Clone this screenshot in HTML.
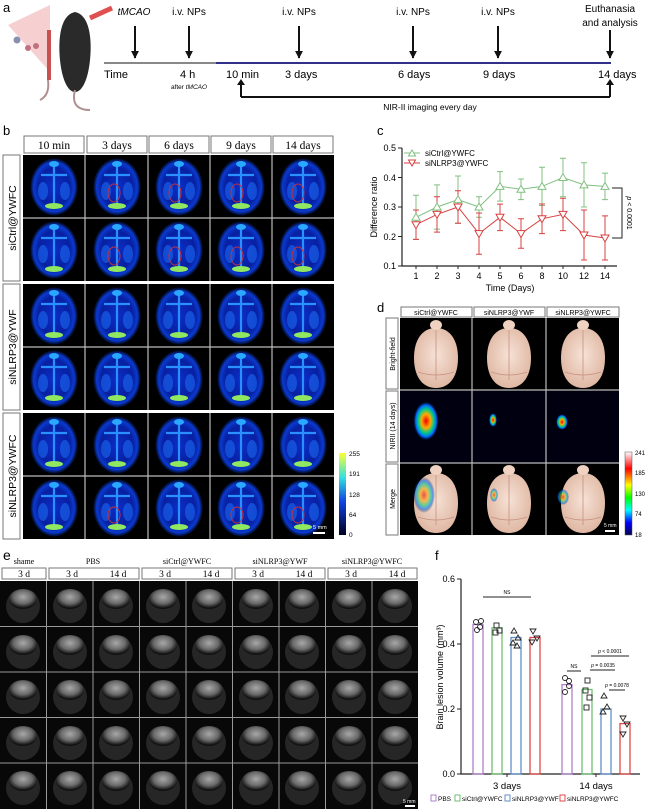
<!DOCTYPE html>
<html><head><meta charset="utf-8"><style>
html,body{margin:0;padding:0;background:#fff;}
svg{display:block;font-family:"Liberation Sans",sans-serif;}
.ser{font-family:"Liberation Serif",serif;}
</style></head><body>
<svg width="650" height="809" viewBox="0 0 650 809" xmlns="http://www.w3.org/2000/svg">
<defs>
<radialGradient id="gb" cx="50%" cy="50%" r="50%"><stop offset="0" stop-color="#0c2ec8"/><stop offset="0.65" stop-color="#0820a0"/><stop offset="0.85" stop-color="#0a3ad0"/><stop offset="1" stop-color="#000"/></radialGradient>
<radialGradient id="gg" cx="50%" cy="40%" r="55%"><stop offset="0" stop-color="#a8a8a8"/><stop offset="0.6" stop-color="#6a6a6a"/><stop offset="1" stop-color="#111"/></radialGradient>
<radialGradient id="gp" cx="50%" cy="45%" r="55%"><stop offset="0" stop-color="#f6e2d6"/><stop offset="1" stop-color="#e0b8a4"/></radialGradient>
<radialGradient id="hot" cx="50%" cy="50%" r="50%"><stop offset="0" stop-color="#e00"/><stop offset="0.35" stop-color="#fa0"/><stop offset="0.6" stop-color="#0c8"/><stop offset="0.8" stop-color="#06f"/><stop offset="1" stop-color="#001" stop-opacity="0"/></radialGradient>
<linearGradient id="cb1" x1="0" y1="0" x2="0" y2="1"><stop offset="0" stop-color="#ffff30"/><stop offset="0.3" stop-color="#30e0e0"/><stop offset="0.6" stop-color="#1040e0"/><stop offset="1" stop-color="#000020"/></linearGradient>
<linearGradient id="cb2" x1="0" y1="0" x2="0" y2="1"><stop offset="0" stop-color="#fff"/><stop offset="0.2" stop-color="#f00"/><stop offset="0.4" stop-color="#ff0"/><stop offset="0.55" stop-color="#0f0"/><stop offset="0.7" stop-color="#0ff"/><stop offset="0.85" stop-color="#00f"/><stop offset="1" stop-color="#000050"/></linearGradient>
<g id="bb">
<rect width="62" height="63" fill="#000"/>
<ellipse cx="31" cy="32" rx="24" ry="29" fill="url(#gb)"/>
<path d="M31 10 V52 M18 20 H44" stroke="#2a90ff" stroke-width="2.2" fill="none"/>
<ellipse cx="20" cy="36" rx="5" ry="9" fill="#1860e8" opacity="0.7"/>
<ellipse cx="42" cy="36" rx="5" ry="9" fill="#1860e8" opacity="0.7"/>
<ellipse cx="31" cy="51" rx="9" ry="3" fill="#90e860"/>
<ellipse cx="31" cy="9" rx="5" ry="3" fill="#2aa8ff"/>
</g>
<g id="ee">
<rect width="46" height="45" fill="#080808"/>
<ellipse cx="23" cy="25" rx="17" ry="17" fill="#262626"/>
<ellipse cx="23" cy="18" rx="14" ry="10" fill="url(#gg)"/>
</g>
<g id="br">
<path d="M0 -30 C14 -30 22 -18 22 0 C22 18 14 30 0 30 C-14 30 -22 18 -22 0 C-22 -18 -14 -30 0 -30Z" fill="url(#gp)"/>
<ellipse cx="0" cy="-33" rx="6" ry="5" fill="#efd2c2"/>
<path d="M0 -28V22 M-18 14 Q0 20 18 14" stroke="#c89080" stroke-width="0.8" fill="none"/>
</g>
<marker id="ar" viewBox="0 0 10 10" refX="9" refY="5" markerWidth="4" markerHeight="4" orient="auto"><path d="M0 0 L10 5 L0 10z" fill="#111"/></marker>
</defs>

<!-- panel a -->
<text x="3" y="12" font-size="13">a</text>
<path d="M8 25 L50 5 L50 72 Z" fill="#f4c4c4" opacity="0.8"/>
<circle cx="17" cy="40" r="3.5" fill="#8890b0"/><circle cx="28" cy="48" r="3" fill="#c07080"/><circle cx="36" cy="46" r="3" fill="#c07080"/>
<rect x="47" y="30" width="4" height="50" fill="#c85050"/>
<path d="M40 100 Q50 95 48 80" stroke="#b09090" stroke-width="2" fill="none"/>
<path d="M75 12 C90 15 92 40 90 60 C88 80 82 92 75 92 C68 92 62 80 60 60 C58 40 60 15 75 12Z" fill="#2a2a2a"/>
<path d="M75 90 Q70 110 90 110" stroke="#b09090" stroke-width="2" fill="none"/>
<path d="M90 18 L112 8" stroke="#e05050" stroke-width="5"/>
<text x="134" y="15" font-size="10" font-style="italic" text-anchor="middle">tMCAO</text>
<text x="189" y="15" font-size="10" text-anchor="middle">i.v. NPs</text>
<text x="299" y="15" font-size="10" text-anchor="middle">i.v. NPs</text>
<text x="413" y="15" font-size="10" text-anchor="middle">i.v. NPs</text>
<text x="498" y="15" font-size="10" text-anchor="middle">i.v. NPs</text>
<text x="610" y="12" font-size="10" text-anchor="middle">Euthanasia</text>
<text x="610" y="26" font-size="10" text-anchor="middle">and analysis</text>
<g stroke="#111" stroke-width="2" marker-end="url(#ar)">
<line x1="135" y1="26" x2="135" y2="58"/><line x1="189" y1="26" x2="189" y2="58"/><line x1="299" y1="26" x2="299" y2="58"/><line x1="413" y1="26" x2="413" y2="58"/><line x1="498" y1="26" x2="498" y2="58"/><line x1="610" y1="30" x2="610" y2="58"/>
</g>
<line x1="104" y1="63" x2="216" y2="63" stroke="#888" stroke-width="2"/>
<line x1="216" y1="63" x2="611" y2="63" stroke="#30308a" stroke-width="2"/>
<g font-size="11"><text x="104" y="78">Time</text><text x="180" y="78">4 h</text><text x="226" y="78">10 min</text><text x="285" y="78">3 days</text><text x="398" y="78">6 days</text><text x="483" y="78">9 days</text><text x="598" y="78">14 days</text></g>
<text x="189" y="89" font-size="6.5" text-anchor="middle">after <tspan font-style="italic">tMCAO</tspan></text>
<path d="M241 97 V84 M610 97 V84 M241 97 H610" stroke="#111" stroke-width="2" fill="none"/>
<path d="M237 85 L241 79 L245 85Z M606 85 L610 79 L614 85Z" fill="#111"/>
<text x="430" y="110" font-size="8.5" text-anchor="middle">NIR-II imaging every day</text>

<!-- panel b -->
<text x="3" y="135" font-size="13">b</text>
<g class="ser" font-size="11.5" text-anchor="middle">
<rect x="24" y="136" width="60" height="17" fill="#fff" stroke="#777"/><text x="54" y="149" class="ser">10 min</text>
<rect x="87" y="136" width="60" height="17" fill="#fff" stroke="#777"/><text x="117" y="149" class="ser">3 days</text>
<rect x="149" y="136" width="60" height="17" fill="#fff" stroke="#777"/><text x="179" y="149" class="ser">6 days</text>
<rect x="211" y="136" width="60" height="17" fill="#fff" stroke="#777"/><text x="241" y="149" class="ser">9 days</text>
<rect x="273" y="136" width="60" height="17" fill="#fff" stroke="#777"/><text x="303" y="149" class="ser">14 days</text>
</g>
<g font-size="10.5">
<rect x="3" y="155" width="17" height="126" fill="#fff" stroke="#777"/><text transform="translate(16,218) rotate(-90)" text-anchor="middle">siCtrl@YWFC</text>
<rect x="3" y="284" width="17" height="126" fill="#fff" stroke="#777"/><text transform="translate(16,347) rotate(-90)" text-anchor="middle">siNLRP3@YWF</text>
<rect x="3" y="413" width="17" height="126" fill="#fff" stroke="#777"/><text transform="translate(16,476) rotate(-90)" text-anchor="middle">siNLRP3@YWFC</text>
</g>
<rect x="23" y="155" width="311" height="384" fill="#000"/>
<g>
<use href="#bb" x="23" y="155"/><use href="#bb" x="86" y="155"/><use href="#bb" x="148" y="155"/><use href="#bb" x="210" y="155"/><use href="#bb" x="272" y="155"/>
<use href="#bb" x="23" y="218"/><use href="#bb" x="86" y="218"/><use href="#bb" x="148" y="218"/><use href="#bb" x="210" y="218"/><use href="#bb" x="272" y="218"/>
<use href="#bb" x="23" y="284"/><use href="#bb" x="86" y="284"/><use href="#bb" x="148" y="284"/><use href="#bb" x="210" y="284"/><use href="#bb" x="272" y="284"/>
<use href="#bb" x="23" y="347"/><use href="#bb" x="86" y="347"/><use href="#bb" x="148" y="347"/><use href="#bb" x="210" y="347"/><use href="#bb" x="272" y="347"/>
<use href="#bb" x="23" y="413"/><use href="#bb" x="86" y="413"/><use href="#bb" x="148" y="413"/><use href="#bb" x="210" y="413"/><use href="#bb" x="272" y="413"/>
<use href="#bb" x="23" y="476"/><use href="#bb" x="86" y="476"/><use href="#bb" x="148" y="476"/><use href="#bb" x="210" y="476"/><use href="#bb" x="272" y="476"/>
</g>
<g stroke="#bbb" stroke-width="1.2" fill="none">
<path d="M85 155V539 M148 155V539 M210 155V539 M272 155V539 M23 218H334 M23 347H334 M23 476H334"/>
</g>
<rect x="23" y="281" width="311" height="3" fill="#fff"/><rect x="23" y="410" width="311" height="3" fill="#fff"/>
<g fill="none" stroke="#c03040" stroke-width="1"><ellipse cx="114" cy="193" rx="6" ry="9"/><ellipse cx="175" cy="193" rx="6" ry="9"/><ellipse cx="237" cy="193" rx="6" ry="9"/><ellipse cx="298" cy="193" rx="6" ry="9"/><ellipse cx="114" cy="256" rx="6" ry="9"/><ellipse cx="175" cy="256" rx="6" ry="9"/><ellipse cx="237" cy="256" rx="6" ry="9"/><ellipse cx="298" cy="256" rx="6" ry="9"/><ellipse cx="114" cy="515" rx="6" ry="8"/><ellipse cx="237" cy="515" rx="6" ry="8"/><ellipse cx="298" cy="515" rx="6" ry="8"/></g>
<rect x="339" y="453" width="7" height="82" fill="url(#cb1)"/>
<g font-size="6.5"><text x="349" y="456">255</text><text x="349" y="476">191</text><text x="349" y="497">128</text><text x="349" y="517">64</text><text x="349" y="537">0</text></g>
<rect x="313" y="532" width="12" height="2" fill="#fff"/><text x="313" y="529" font-size="5.5" fill="#fff">5 mm</text>

<!-- panel c -->
<text x="377" y="135" font-size="13">c</text>
<path d="M402 148 V266 H617" stroke="#222" stroke-width="1.2" fill="none"/>
<g stroke="#222" stroke-width="1"><path d="M398 148H402 M398 177.5H402 M398 207H402 M398 236.5H402 M398 266H402"/>
<path d="M416 266v3 M437 266v3 M458 266v3 M479 266v3 M500 266v3 M521 266v3 M542 266v3 M563 266v3 M584 266v3 M605 266v3"/></g>
<g font-size="9" text-anchor="end"><text x="396" y="151">0.5</text><text x="396" y="181">0.4</text><text x="396" y="210">0.3</text><text x="396" y="240">0.2</text><text x="396" y="269">0.1</text></g>
<g font-size="9" text-anchor="middle"><text x="416" y="279">1</text><text x="437" y="279">2</text><text x="458" y="279">3</text><text x="479" y="279">4</text><text x="500" y="279">5</text><text x="521" y="279">6</text><text x="542" y="279">8</text><text x="563" y="279">10</text><text x="584" y="279">12</text><text x="605" y="279">14</text></g>
<text x="510" y="291" font-size="9" text-anchor="middle">Time (Days)</text>
<text transform="translate(377,207) rotate(-90)" font-size="9" text-anchor="middle">Difference ratio</text>
<g stroke="#80c080" stroke-width="1" fill="none">
<path d="M416 217.3 L437 207 L458 199.6 L479 207 L500 186.4 L521 189.3 L542 186.4 L563 177.5 L584 184.9 L605 186.4"/>
<path d="M416 195.2V239.4 M437 184.9V229.1 M458 176V223.2 M479 196.7V217.3 M500 171.6V201.1 M521 179V199.6 M542 167.2V205.5 M563 158.3V196.7 M584 162.8V207 M605 173.1V199.6"/>
<path d="M413 195.2h6M413 239.4h6M434 184.9h6M434 229.1h6M455 176h6M455 223.2h6M476 196.7h6M476 217.3h6M497 171.6h6M497 201.1h6M518 179h6M518 199.6h6M539 167.2h6M539 205.5h6M560 158.3h6M560 196.7h6M581 162.8h6M581 207h6M602 173.1h6M602 199.6h6"/>
</g>
<g stroke="#d84040" stroke-width="1" fill="none">
<path d="M416 224.7 L437 214.4 L458 207 L479 233.6 L500 217.3 L521 233.6 L542 218.8 L563 214.4 L584 235 L605 238"/>
<path d="M416 210V239.4 M437 196.7V232.1 M458 190.8V223.2 M479 213V254.2 M500 204.1V230.6 M521 218.8V248.3 M542 204V233.6 M563 198.2V230.6 M584 210V260 M605 215.9V260"/>
<path d="M413 210h6M413 239.4h6M434 196.7h6M434 232.1h6M455 190.8h6M455 223.2h6M476 213h6M476 254.2h6M497 204.1h6M497 230.6h6M518 218.8h6M518 248.3h6M539 204h6M539 233.6h6M560 198.2h6M560 230.6h6M581 210h6M581 260h6M602 215.9h6M602 260h6"/>
</g>
<g fill="#fff" stroke="#80c080" stroke-width="1"><path d="M416 213.3l4 7h-8z M437 203l4 7h-8z M458 195.6l4 7h-8z M479 203l4 7h-8z M500 182.4l4 7h-8z M521 185.3l4 7h-8z M542 182.4l4 7h-8z M563 173.5l4 7h-8z M584 180.9l4 7h-8z M605 182.4l4 7h-8z"/></g>
<g fill="#fff" stroke="#d84040" stroke-width="1"><path d="M416 228.7l4 -7h-8z M437 218.4l4 -7h-8z M458 211l4 -7h-8z M479 237.6l4 -7h-8z M500 221.3l4 -7h-8z M521 237.6l4 -7h-8z M542 222.8l4 -7h-8z M563 218.4l4 -7h-8z M584 239l4 -7h-8z M605 242l4 -7h-8z"/></g>
<path d="M404 153h16" stroke="#80c080"/><path d="M412 150l3.5 6h-7z" fill="#fff" stroke="#80c080"/>
<path d="M404 163h16" stroke="#d84040"/><path d="M412 166l3.5 -6h-7z" fill="#fff" stroke="#d84040"/>
<text x="425" y="156" font-size="8">siCtrl@YWFC</text><text x="425" y="166" font-size="8">siNLRP3@YWFC</text>
<path d="M612 188H622V238H612" stroke="#222" fill="none"/>
<text transform="translate(627,213) rotate(90)" font-size="7" text-anchor="middle"><tspan font-style="italic">p</tspan> &lt; 0.0001</text>

<!-- panel d -->
<text x="377" y="312" font-size="13">d</text>
<g font-size="7" text-anchor="middle">
<rect x="401" y="307" width="71" height="10" fill="#fff" stroke="#777"/><text x="436" y="315">siCtrl@YWFC</text>
<rect x="474" y="307" width="71" height="10" fill="#fff" stroke="#777"/><text x="509" y="315">siNLRP3@YWF</text>
<rect x="547" y="307" width="72" height="10" fill="#fff" stroke="#777"/><text x="583" y="315">siNLRP3@YWFC</text>
<rect x="386" y="318" width="12" height="71" fill="#fff" stroke="#777"/><text transform="translate(395,354) rotate(-90)">Bright-field</text>
<rect x="386" y="391" width="12" height="71" fill="#fff" stroke="#777"/><text transform="translate(395,426) rotate(-90)">NIRII (14 days)</text>
<rect x="386" y="464" width="12" height="71" fill="#fff" stroke="#777"/><text transform="translate(395,499) rotate(-90)">Merge</text>
</g>
<rect x="400" y="318" width="219" height="217" fill="#000"/>
<rect x="400" y="391" width="219" height="72" fill="#000010"/>
<use href="#br" x="436" y="358"/><use href="#br" x="509" y="358"/><use href="#br" x="583" y="358"/>
<use href="#br" x="436" y="503"/><use href="#br" x="509" y="503"/><use href="#br" x="583" y="503"/>
<ellipse cx="426" cy="421" rx="13" ry="20" fill="url(#hot)"/>
<ellipse cx="493" cy="420" rx="4" ry="7" fill="url(#hot)"/>
<ellipse cx="562" cy="422" rx="6" ry="8" fill="url(#hot)"/>
<ellipse cx="424" cy="495" rx="11" ry="18" fill="url(#hot)" opacity="0.6"/>
<ellipse cx="494" cy="495" rx="4" ry="7" fill="url(#hot)" opacity="0.6"/>
<ellipse cx="563" cy="497" rx="6" ry="8" fill="url(#hot)" opacity="0.6"/>
<path d="M472 318V535 M546 318V535 M400 390H619 M400 463H619" stroke="#bbb" stroke-width="1.2"/>
<rect x="625" y="452" width="7" height="83" fill="url(#cb2)" stroke="#555" stroke-width="0.5"/>
<g font-size="6"><text x="635" y="455">241</text><text x="635" y="475">185</text><text x="635" y="496">130</text><text x="635" y="516">74</text><text x="635" y="537">18</text></g>
<text x="604" y="527" font-size="5" fill="#fff">5 mm</text><rect x="605" y="530" width="10" height="2" fill="#fff"/>

<!-- panel e -->
<text x="3" y="560" font-size="14">e</text>
<g class="ser" font-size="8" text-anchor="middle">
<text x="24" y="564" class="ser">shame</text><text x="93" y="564" class="ser">PBS</text><text x="187" y="564" class="ser">siCtrl@YWFC</text><text x="280" y="564" class="ser">siNLRP3@YWF</text><text x="372" y="564" class="ser">siNLRP3@YWFC</text>
</g>
<g fill="#fff" stroke="#777"><rect x="2" y="568" width="44" height="11"/><rect x="49" y="568" width="90" height="11"/><rect x="142" y="568" width="90" height="11"/><rect x="235" y="568" width="90" height="11"/><rect x="328" y="568" width="89" height="11"/></g>
<g class="ser" font-size="9.5" text-anchor="middle">
<text x="24" y="577" class="ser">3 d</text><text x="72" y="577" class="ser">3 d</text><text x="118" y="577" class="ser">14 d</text><text x="165" y="577" class="ser">3 d</text><text x="211" y="577" class="ser">14 d</text><text x="258" y="577" class="ser">3 d</text><text x="304" y="577" class="ser">14 d</text><text x="351" y="577" class="ser">3 d</text><text x="397" y="577" class="ser">14 d</text>
</g>
<rect x="0" y="581" width="418" height="228" fill="#080808"/>
<g>
<use href="#ee" x="0" y="581"/><use href="#ee" x="47" y="581"/><use href="#ee" x="93" y="581"/><use href="#ee" x="140" y="581"/><use href="#ee" x="186" y="581"/><use href="#ee" x="233" y="581"/><use href="#ee" x="279" y="581"/><use href="#ee" x="326" y="581"/><use href="#ee" x="372" y="581"/>
<use href="#ee" x="0" y="627"/><use href="#ee" x="47" y="627"/><use href="#ee" x="93" y="627"/><use href="#ee" x="140" y="627"/><use href="#ee" x="186" y="627"/><use href="#ee" x="233" y="627"/><use href="#ee" x="279" y="627"/><use href="#ee" x="326" y="627"/><use href="#ee" x="372" y="627"/>
<use href="#ee" x="0" y="672"/><use href="#ee" x="47" y="672"/><use href="#ee" x="93" y="672"/><use href="#ee" x="140" y="672"/><use href="#ee" x="186" y="672"/><use href="#ee" x="233" y="672"/><use href="#ee" x="279" y="672"/><use href="#ee" x="326" y="672"/><use href="#ee" x="372" y="672"/>
<use href="#ee" x="0" y="718"/><use href="#ee" x="47" y="718"/><use href="#ee" x="93" y="718"/><use href="#ee" x="140" y="718"/><use href="#ee" x="186" y="718"/><use href="#ee" x="233" y="718"/><use href="#ee" x="279" y="718"/><use href="#ee" x="326" y="718"/><use href="#ee" x="372" y="718"/>
<use href="#ee" x="0" y="763"/><use href="#ee" x="47" y="763"/><use href="#ee" x="93" y="763"/><use href="#ee" x="140" y="763"/><use href="#ee" x="186" y="763"/><use href="#ee" x="233" y="763"/><use href="#ee" x="279" y="763"/><use href="#ee" x="326" y="763"/><use href="#ee" x="372" y="763"/>
</g>
<path d="M46.5 581V809 M93 581V809 M139.5 581V809 M186 581V809 M232.5 581V809 M279 581V809 M325.5 581V809 M372 581V809 M0 626.5H418 M0 672H418 M0 717.5H418 M0 763H418" stroke="#999" stroke-width="1"/>
<text x="403" y="803" font-size="5" fill="#fff">5 mm</text><rect x="405" y="805" width="10" height="2" fill="#fff"/>

<!-- panel f -->
<text x="435" y="560" font-size="13">f</text>
<path d="M461 579V774H640" stroke="#222" stroke-width="1.2" fill="none"/>
<path d="M457 579H461 M457 644H461 M457 709H461 M457 774H461 M507 774v3 M596 774v3" stroke="#222"/>
<g font-size="9" text-anchor="end"><text x="455" y="582">0.6</text><text x="455" y="647">0.4</text><text x="455" y="712">0.2</text><text x="455" y="777">0.0</text></g>
<g font-size="9.5" text-anchor="middle"><text x="507" y="789">3 days</text><text x="596" y="789">14 days</text></g>
<text transform="translate(443,677) rotate(-90)" font-size="9" text-anchor="middle">Brain lesion volume (mm³)</text>
<g fill="none" stroke-width="1.3">
<rect x="473" y="624.5" width="10" height="149.5" stroke="#b080c8"/>
<rect x="492" y="627.8" width="10" height="146.2" stroke="#70c070"/>
<rect x="511" y="637.5" width="10" height="136.5" stroke="#6090c8"/>
<rect x="530" y="637.5" width="10" height="136.5" stroke="#e04848"/>
<rect x="562" y="684.6" width="10" height="89.4" stroke="#b080c8"/>
<rect x="582" y="689.5" width="10" height="84.5" stroke="#70c070"/>
<rect x="601" y="709" width="10" height="65" stroke="#6090c8"/>
<rect x="620" y="723.6" width="10" height="50.4" stroke="#e04848"/>
</g>
<g fill="none" stroke="#222" stroke-width="0.9">
<circle cx="476" cy="622" r="2.5"/><circle cx="480" cy="627" r="2.5"/><circle cx="477" cy="630" r="2.5"/><circle cx="481" cy="621" r="2.5"/>
<rect x="494" y="623" width="5" height="5"/><rect x="497" y="628" width="5" height="5"/><rect x="493" y="630" width="5" height="5"/>
<path d="M514 628l3 5h-6z M518 635l3 5h-6z M513 640l3 5h-6z M517 643l3 5h-6z"/>
<path d="M533 634l3 -5h-6z M537 641l3 -5h-6z M532 645l3 -5h-6z"/>
<circle cx="565" cy="678" r="2.5"/><circle cx="569" cy="686" r="2.5"/><circle cx="565" cy="692" r="2.5"/><circle cx="569" cy="681" r="2.5"/>
<rect x="585" y="678" width="5" height="5"/><rect x="583" y="688" width="5" height="5"/><rect x="587" y="695" width="5" height="5"/><rect x="584" y="705" width="5" height="5"/>
<path d="M604 693l3 5h-6z M607 704l3 5h-6z M603 709l3 5h-6z"/>
<path d="M623 721l3 -5h-6z M627 727l3 -5h-6z M623 737l3 -5h-6z"/>
</g>
<path d="M483 597H531 M567 671H581 M590 670H615 M591 656H629 M609 690H625" stroke="#222" stroke-width="0.9"/>
<g font-size="5" text-anchor="middle"><text x="507" y="594">NS</text><text x="574" y="668">NS</text><text x="603" y="667"><tspan font-style="italic">p</tspan> = 0.0035</text><text x="610" y="653"><tspan font-style="italic">p</tspan> &lt; 0.0001</text><text x="617" y="687"><tspan font-style="italic">p</tspan> = 0.0078</text></g>
<g font-size="6.5">
<rect x="431" y="795" width="5" height="6" fill="none" stroke="#b080c8"/><text x="438" y="801">PBS</text>
<rect x="455" y="795" width="5" height="6" fill="none" stroke="#70c070"/><text x="462" y="801">siCtrl@YWFC</text>
<rect x="505" y="795" width="5" height="6" fill="none" stroke="#6090c8"/><text x="512" y="801">siNLRP3@YWF</text>
<rect x="560" y="795" width="5" height="6" fill="none" stroke="#e04848"/><text x="567" y="801">siNLRP3@YWFC</text>
</g>
</svg>
</body></html>
